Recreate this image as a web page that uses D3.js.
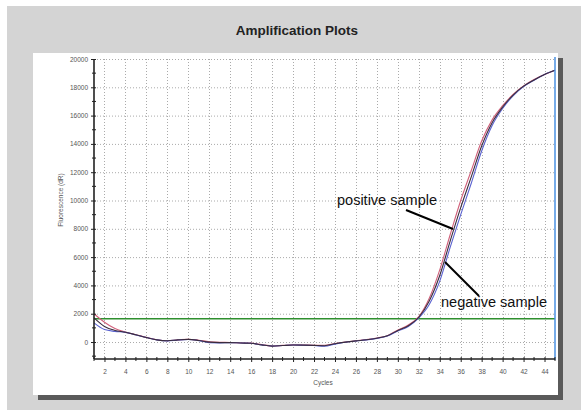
<!DOCTYPE html>
<html>
<head>
<meta charset="utf-8">
<script src="https://cdn.jsdelivr.net/npm/d3@7"></script>
<style>
  body { margin: 0; background: #fff; }
  svg { display: block; font-family: "Liberation Sans", Arial, sans-serif; }
</style>
</head>
<body>
<svg id="chart" width="581" height="410"></svg>
<script>
// cycles 1..45
const cycles = d3.range(1, 46);

// positive sample (red)
const positive = [2000, 1400, 950, 700, 520, 330, 160, 90, 150, 200,
  130, 20, -20, -30, -60, -80, -180, -280, -240, -200,
  -210, -230, -230, -110, 0, 90, 170, 280, 450, 850,
  1200, 1800, 3100, 5100, 7600, 10000, 12100, 14200, 15700, 16700,
  17500, 18100, 18550, 18900, 19200];

// negative sample (blue)
const negative = [1350, 880, 750, 680, 500, 320, 150, 80, 140, 180,
  100, -50, -60, -40, -70, -90, -200, -290, -250, -210,
  -230, -250, -300, -150, -20, 70, 150, 260, 420, 780,
  1100, 1700, 2650, 4300, 6700, 9000, 11200, 13500, 15300, 16500,
  17400, 18050, 18500, 18900, 19200];

// third (dark) trace lying between the two
const darkTrace = [1700, 1100, 820, 690, 510, 320, 150, 90, 150, 190,
  110, -10, -40, -40, -70, -90, -200, -290, -250, -210,
  -220, -240, -260, -120, -10, 80, 160, 270, 440, 820,
  1150, 1750, 2900, 4700, 7150, 9500, 11650, 13850, 15500, 16600,
  17450, 18080, 18520, 18900, 19200];

const threshold = 1650;
const yTicks = d3.range(0, 20001, 2000);
const yMinor = d3.range(-1000, 20001, 1000);
const xTicks = d3.range(2, 45, 2);
const xMinor = d3.range(1, 46, 1);

const svg = d3.select('#chart');

// window frame
svg.append('rect').attr('x', 7).attr('y', 6).attr('width', 574).attr('height', 404).attr('fill', '#d4d4d4');
svg.append('rect').attr('x', 38).attr('y', 58).attr('width', 525).attr('height', 342).attr('fill', '#5a5a5a');
svg.append('rect').attr('x', 33).attr('y', 53).attr('width', 525).attr('height', 342).attr('fill', '#fff');

svg.append('text')
  .attr('x', 297).attr('y', 35)
  .attr('text-anchor', 'middle')
  .style('font-size', '13.5px').style('font-weight', 'bold').attr('fill', '#222')
  .text('Amplification Plots');

const x = d3.scaleLinear().domain([1, 45]).range([94, 555]);
const y = d3.scaleLinear().domain([-1200, 20000]).range([359, 59]);

// grid
const grid = svg.append('g').attr('stroke', '#aaa').attr('stroke-width', 1).attr('stroke-dasharray', '1,2');
grid.selectAll('.h').data(yTicks).enter().append('line')
  .attr('x1', 94).attr('x2', 555)
  .attr('y1', d => y(d) + 0.5).attr('y2', d => y(d) + 0.5);
grid.selectAll('.v').data(xTicks).enter().append('line')
  .attr('y1', 59).attr('y2', 359)
  .attr('x1', d => Math.round(x(d)) + 0.5).attr('x2', d => Math.round(x(d)) + 0.5);

// threshold
svg.append('line')
  .attr('x1', 94).attr('x2', 555)
  .attr('y1', y(threshold)).attr('y2', y(threshold))
  .attr('stroke', '#2f8f2f').attr('stroke-width', 1.5);

// curves
const line = d3.line()
  .x((d, i) => x(cycles[i]))
  .y(d => y(d))
  .curve(d3.curveMonotoneX);

[[positive, '#d0607a'], [negative, '#5a62d0'], [darkTrace, '#3a2c3e']].forEach(([s, c]) => {
  svg.append('path').datum(s)
    .attr('d', line)
    .attr('fill', 'none').attr('stroke', c).attr('stroke-width', 1.1);
});

// end-of-run marker
svg.append('line')
  .attr('x1', x(45)).attr('x2', x(45)).attr('y1', 57).attr('y2', 360)
  .attr('stroke', '#4a90e2').attr('stroke-width', 1.5);

// axes
const yAxis = svg.append('g').attr('transform', 'translate(94,0)');
yAxis.call(d3.axisLeft(y).tickValues(yTicks).tickSize(3).tickPadding(3).tickFormat(d3.format('d')));
yAxis.selectAll('.tick line').attr('x2', -3).attr('x1', 2).attr('stroke', '#222');
yAxis.selectAll('.tick text').style('font-size', '6.5px').attr('fill', '#555');
yAxis.select('.domain').attr('d', 'M0,59V359').attr('stroke', '#222').attr('stroke-width', 1.6);
yAxis.selectAll('.minor').data(yMinor.filter(v => v % 2000 !== 0)).enter().append('line')
  .attr('x1', -2).attr('x2', 2).attr('y1', d => y(d)).attr('y2', d => y(d))
  .attr('stroke', '#222');

const xAxis = svg.append('g').attr('transform', 'translate(0,359)');
xAxis.call(d3.axisBottom(x).tickValues(xTicks).tickSize(3).tickPadding(7).tickFormat(d3.format('d')));
xAxis.selectAll('.tick line').attr('y1', -2).attr('y2', 3).attr('stroke', '#222');
xAxis.selectAll('.tick text').style('font-size', '6.5px').attr('fill', '#555');
xAxis.select('.domain').attr('d', 'M94,0H555').attr('stroke', '#222').attr('stroke-width', 1.6);
xAxis.selectAll('.minor').data(xMinor.filter(v => v % 2 !== 0)).enter().append('line')
  .attr('y1', -2).attr('y2', 2).attr('x1', d => x(d)).attr('x2', d => x(d))
  .attr('stroke', '#222');

svg.append('text')
  .attr('x', 323).attr('y', 385).attr('text-anchor', 'middle')
  .style('font-size', '6.5px').attr('fill', '#555')
  .text('Cycles');

svg.append('text')
  .attr('transform', 'translate(63,200) rotate(-90)')
  .attr('text-anchor', 'middle')
  .style('font-size', '6.5px').attr('fill', '#555')
  .text('Fluorescence (dR)');

// annotations
svg.append('text')
  .attr('x', 337).attr('y', 205)
  .attr('textLength', 100).attr('lengthAdjust', 'spacingAndGlyphs')
  .style('font-size', '14px').attr('fill', '#111')
  .text('positive sample');
svg.append('line')
  .attr('x1', 406).attr('y1', 210).attr('x2', 453).attr('y2', 229)
  .attr('stroke', '#000').attr('stroke-width', 2);

svg.append('text')
  .attr('x', 441).attr('y', 307)
  .attr('textLength', 106).attr('lengthAdjust', 'spacingAndGlyphs')
  .style('font-size', '14px').attr('fill', '#111')
  .text('negative sample');
svg.append('line')
  .attr('x1', 445).attr('y1', 262).attr('x2', 479).attr('y2', 296)
  .attr('stroke', '#000').attr('stroke-width', 2);
</script>
</body>
</html>
